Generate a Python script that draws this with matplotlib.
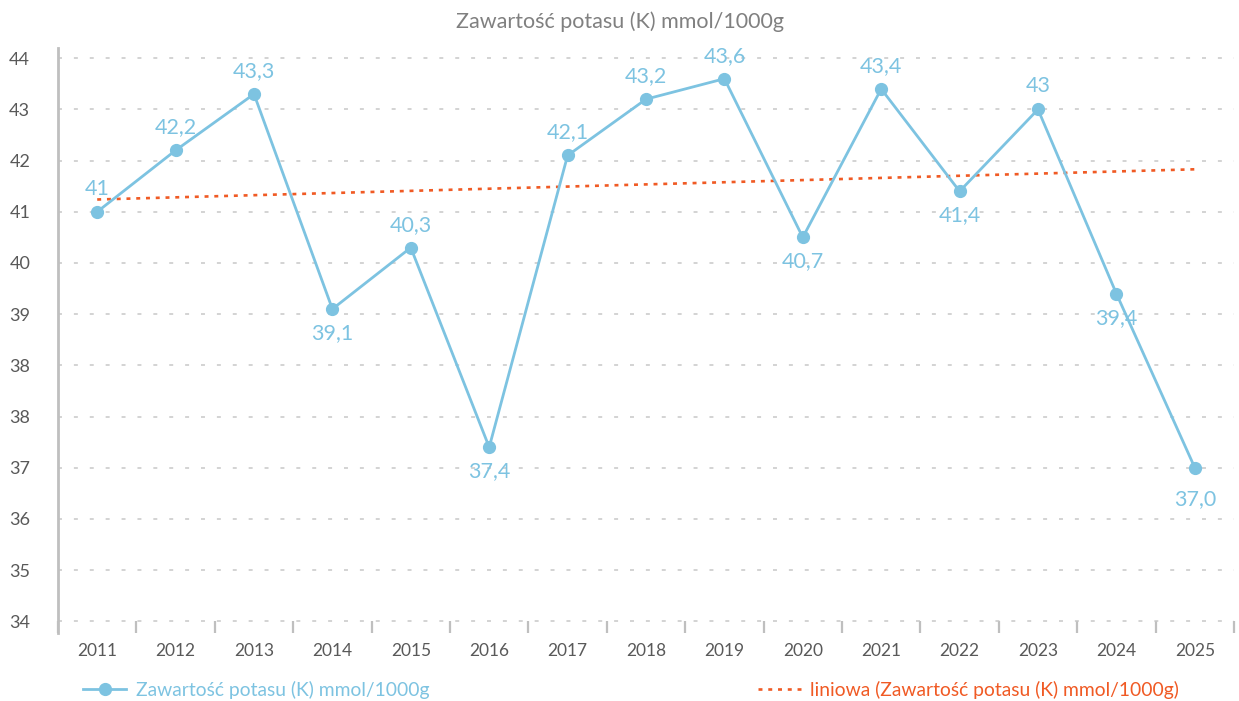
import matplotlib.pyplot as plt
import numpy as np

plt.rcParams['font.family'] = ['Lato', 'DejaVu Sans']

years = ['2011', '2012', '2013', '2014', '2015', '2016', '2017', '2018',
         '2019', '2020', '2021', '2022', '2023', '2024', '2025']
potas = [41.0, 42.2, 43.3, 39.1, 40.3, 37.4, 42.1, 43.2, 43.6, 40.5, 43.4, 41.4, 43.0, 39.4, 37.0]
etykiety = ['41', '42,2', '43,3', '39,1', '40,3', '37,4', '42,1', '43,2',
            '43,6', '40,7', '43,4', '41,4', '43', '39,4', '37,0']
nad = [True, True, True, False, True, False, True, True, True, False, True, False, True, False, False]
trend = [41.24, 41.83]  # linia trendu, poczatek i koniec

y_ticks = [34, 35, 36, 37, 38, 38.5, 39, 40, 41, 42, 43, 44]
y_labels = ['34', '35', '36', '37', '38', '38', '39', '40', '41', '42', '43', '44']

niebieski = '#7DC3E1'
pomaranczowy = '#F05A24'
szary = '#595959'

# os Y z podwojnym "38" - skala kawalkami liniowa
wezly_v = [24, 38, 39, 54]
wezly_k = [-10, 4, 6, 21]


def fwd(v):
    return np.interp(v, wezly_v, wezly_k)


def inv(k):
    return np.interp(k, wezly_k, wezly_v)


fig = plt.figure(figsize=(12.39, 7.01), dpi=100)
ax = fig.add_axes([58 / 1239, 1 - 633 / 701, (1234 - 58) / 1239, (633 - 48) / 701])
ax.set_yscale('function', functions=(fwd, inv))

x = np.arange(len(years))
ax.plot(x, potas, color=niebieski, lw=2, marker='o', markersize=8.5,
        label='Zawartość potasu (K) mmol/1000g', zorder=3)
ax.plot([x[0], x[-1]], trend, color=pomaranczowy, lw=1.9, linestyle=(0, (1.5, 2.2)),
        label='liniowa (Zawartość potasu (K) mmol/1000g)', zorder=2)

for i, (v, t) in enumerate(zip(potas, etykiety)):
    dy = 23 if nad[i] else -24
    if i == len(potas) - 1:
        dy = -31
    ax.annotate(t, (x[i], v), xytext=(0, dy * 0.72), textcoords='offset points',
                ha='center', va='center', color=niebieski, fontsize=15.5)

ax.set_xlim(-0.5, len(years) - 0.5)
ax.set_ylim(33.77, 44.2)
ax.set_xticks(x)
ax.set_xticklabels(years)
ax.set_xticks(np.arange(-0.5, len(years)), minor=True)
ax.set_yticks(y_ticks)
ax.set_yticklabels(y_labels)

ax.tick_params(axis='x', which='major', length=0, pad=7, labelsize=12.5, labelcolor=szary)
ax.tick_params(axis='x', which='minor', direction='in', length=8.5, width=1.6, color='#BFBFBF')
ax.tick_params(axis='y', length=0, pad=20, labelsize=13, labelcolor=szary)

ax.grid(axis='y', color='#C8C8C8', lw=1.1, linestyle=(0, (2.6, 7.8)))
for s in ['top', 'right', 'bottom']:
    ax.spines[s].set_visible(False)
ax.spines['left'].set_color('#BFBFBF')
ax.spines['left'].set_linewidth(2)

fig.text(0.5, 1 - 22 / 701, 'Zawartość potasu (K) mmol/1000g', ha='center', va='center',
         fontsize=15.5, color='#808080')

h, l = ax.get_legend_handles_labels()
fig.legend([h[0]], [l[0]], loc='center left', bbox_to_anchor=(66 / 1239, 1 - 690 / 701),
           frameon=False, fontsize=13.9, labelcolor='linecolor', handlelength=2.2, handletextpad=0.5)
fig.legend([h[1]], [l[1]], loc='center left', bbox_to_anchor=(741 / 1239, 1 - 690 / 701),
           frameon=False, fontsize=13.9, labelcolor='linecolor', handlelength=2.2, handletextpad=0.5)

plt.savefig('out.png', dpi=100)
